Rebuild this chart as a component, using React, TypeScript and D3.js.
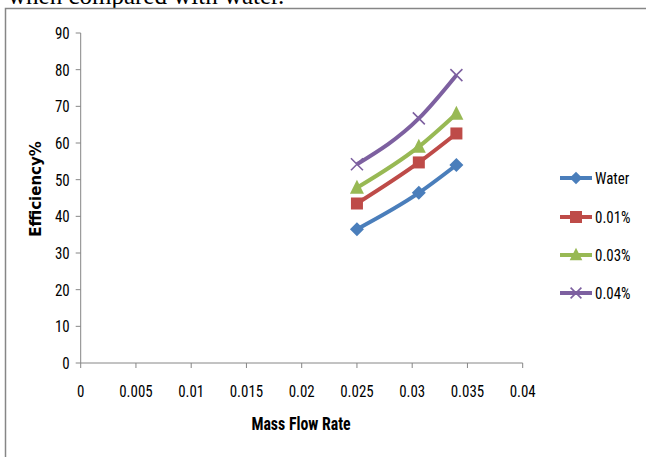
import React from "react";
import * as d3 from "d3";

const flowRates = [0.025, 0.0306, 0.034];
const water = [36.5, 46.4, 54.0];
const pct001 = [43.5, 54.7, 62.6];
const pct003 = [47.8, 59.0, 68.0];
const pct004 = [54.2, 66.7, 78.5];
const seriesNames = ["Water", "0.01%", "0.03%", "0.04%"];
const xTicks = [0, 0.005, 0.01, 0.015, 0.02, 0.025, 0.03, 0.035, 0.04];
const yTicks = [0, 10, 20, 30, 40, 50, 60, 70, 80, 90];

const colors = ["#4A7EBB", "#BE4B48", "#98B954", "#7D60A0"];
const markers = ["diamond", "square", "triangle", "x"];
const font = "'Liberation Sans Narrow', 'Arial Narrow', 'Roboto Condensed', sans-serif";

function Marker({ kind, x, y, color, s = 1 }: { kind: string; x: number; y: number; color: string; s?: number }) {
  if (kind === "diamond") {
    const r = 7 * s;
    return <path d={`M${x},${y - r}L${x + r},${y}L${x},${y + r}L${x - r},${y}Z`} fill={color} />;
  }
  if (kind === "square") {
    const r = 6 * s;
    return <rect x={x - r} y={y - r} width={2 * r} height={2 * r} fill={color} />;
  }
  if (kind === "triangle") {
    const r = 7 * s;
    return <path d={`M${x},${y - r - 1}L${x + r},${y + r - 1}L${x - r},${y + r - 1}Z`} fill={color} />;
  }
  const r = 6 * s;
  return (
    <path d={`M${x - r},${y - r}L${x + r},${y + r}M${x - r},${y + r}L${x + r},${y - r}`} stroke={color} strokeWidth={1.6} fill="none" />
  );
}

function T({ x, y, anchor = "start", size = 17, bold = false, children }: any) {
  return (
    <text
      transform={`translate(${x},${y}) scale(0.88,1)`}
      dy="0.35em"
      textAnchor={anchor}
      fontFamily={font}
      fontWeight={bold ? "bold" : "normal"}
      fontSize={size}
      fill="#000"
    >
      {children}
    </text>
  );
}

export default function App() {
  const W = 646, H = 457;
  const x = d3.scaleLinear().domain([0, 0.04]).range([80.7, 522.7]);
  const y = d3.scaleLinear().domain([0, 90]).range([363, 33]);
  const data = [water, pct001, pct003, pct004];
  const line = d3
    .line<number>()
    .x((_, i) => x(flowRates[i]))
    .y((d) => y(d))
    .curve(d3.curveMonotoneX);
  const axisColor = "#868686";
  const legendY = [178, 217, 255, 293];
  return (
    <svg width={W} height={H} style={{ position: "absolute", left: 0, top: 0, background: "#fff" }}>
      <text x={8} y={4} fontFamily="'Liberation Serif', 'Times New Roman', serif" fontSize={25} fill="#000">
        when compared with water.
      </text>
      <rect x={5.5} y={8.5} width={700} height={500} fill="#fff" stroke={axisColor} strokeWidth={1.5} />
      {/* axes */}
      <line x1={x(0)} x2={x(0)} y1={y(90)} y2={y(0)} stroke={axisColor} strokeWidth={1} />
      <line x1={x(0)} x2={x(0.04)} y1={y(0)} y2={y(0)} stroke={axisColor} strokeWidth={1} />
      {yTicks.map((t) => (
        <g key={"y" + t}>
          <line x1={x(0) - 5} x2={x(0)} y1={y(t)} y2={y(t)} stroke={axisColor} />
          <T x={x(0) - 11} y={y(t)} anchor="end">{t}</T>
        </g>
      ))}
      {xTicks.map((t) => (
        <g key={"x" + t}>
          <line x1={x(t)} x2={x(t)} y1={y(0)} y2={y(0) + 5} stroke={axisColor} />
          <T x={x(t)} y={391} anchor="middle">{t}</T>
        </g>
      ))}
      <T x={301} y={424} anchor="middle" size={18} bold>
        Mass Flow Rate
      </T>
      <text
        transform={`translate(36,189) rotate(-90)`}
        dy="0.35em"
        textAnchor="middle"
        fontFamily="'DejaVu Sans', sans-serif"
        fontWeight="bold"
        fontSize={15}
        fill="#000"
      >
        Efficiency%
      </text>
      {data.map((vals, si) => (
        <g key={"s" + si}>
          <path d={line(vals) || ""} fill="none" stroke={colors[si]} strokeWidth={4} />
          {vals.map((v, i) => (
            <Marker key={i} kind={markers[si]} x={x(flowRates[i])} y={y(v)} color={colors[si]} />
          ))}
        </g>
      ))}
      {seriesNames.map((n, i) => (
        <g key={"l" + n}>
          <line x1={560} x2={592} y1={legendY[i]} y2={legendY[i]} stroke={colors[i]} strokeWidth={4} />
          <Marker kind={markers[i]} x={576} y={legendY[i]} color={colors[i]} s={i === 1 ? 1 : 0.9} />
          <T x={595} y={legendY[i]}>{n}</T>
        </g>
      ))}
    </svg>
  );
}
